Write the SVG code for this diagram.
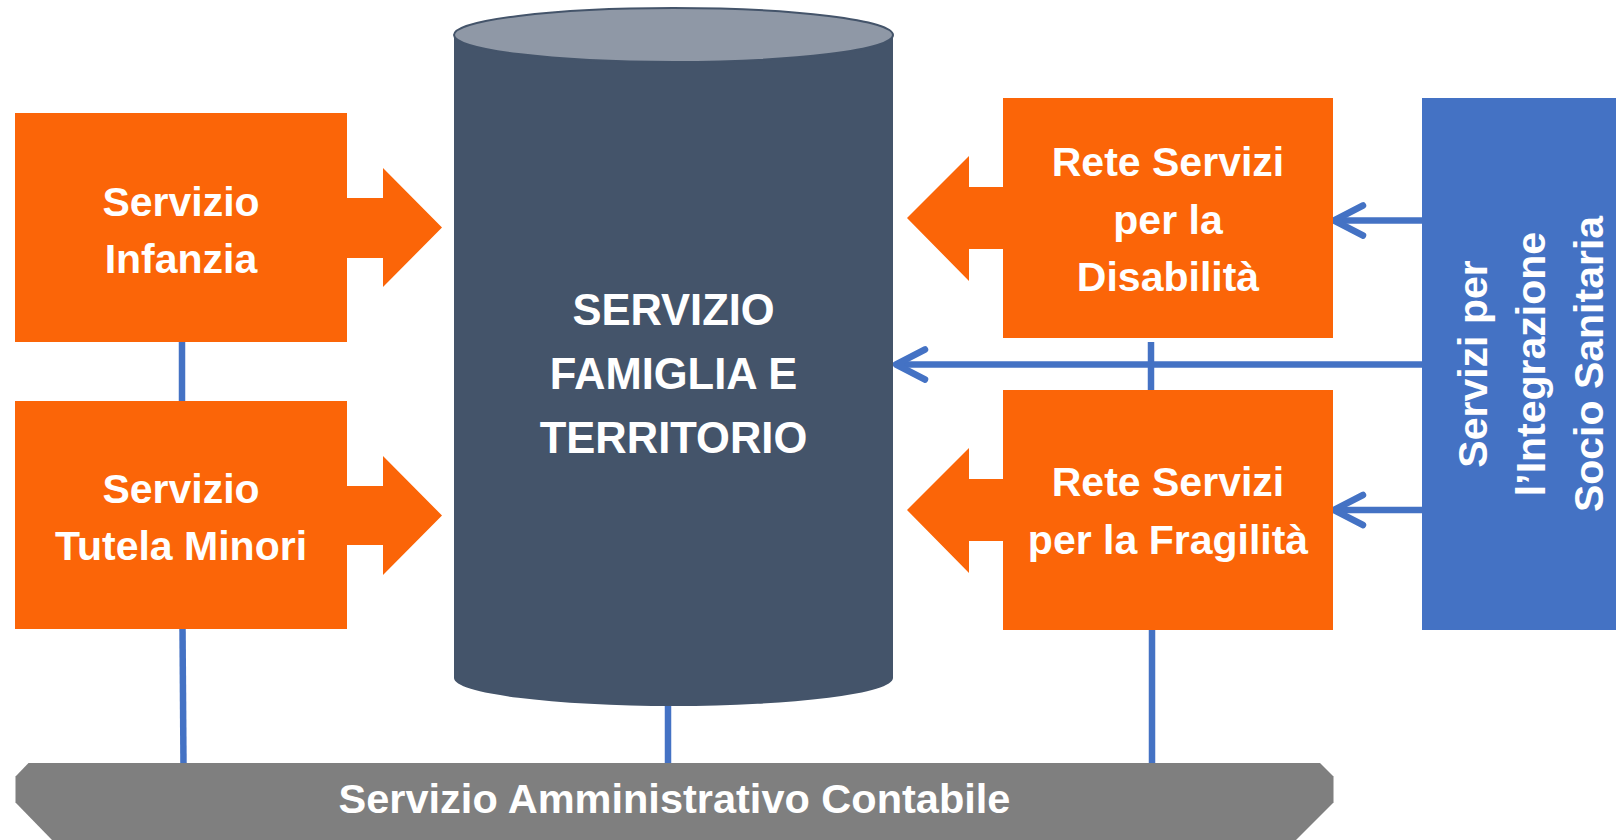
<svg xmlns="http://www.w3.org/2000/svg" width="1616" height="840" viewBox="0 0 1616 840">
  <style>
    .orange { fill: #FB6508; }
    .lbl { font-family: "Liberation Sans", Arial, sans-serif; font-weight: bold; fill: #FFFFFF; text-anchor: middle; }
    .conn { stroke: #4472C4; stroke-width: 6.5; fill: none; }
    .arr { stroke: #4472C4; stroke-width: 6.5; fill: none; stroke-linecap: round; stroke-linejoin: round; }
  </style>
  <rect x="0" y="0" width="1616" height="840" fill="#FFFFFF"/>

  <g id="connectors">
    <line class="conn" x1="182" y1="340" x2="182" y2="403"/>
    <line class="conn" x1="182.5" y1="627" x2="183.5" y2="765"/>
    <line class="conn" x1="668" y1="700" x2="668" y2="765"/>
    <line class="conn" x1="1151" y1="342" x2="1151" y2="392"/>
    <line class="conn" x1="1152" y1="628" x2="1152" y2="765"/>
    <line class="conn" x1="1422" y1="220.5" x2="1336" y2="220.5"/>
    <path class="arr" d="M1363,205.5 L1334,220.5 L1363,235.5"/>
    <line class="conn" x1="1422" y1="364.5" x2="898" y2="364.5"/>
    <path class="arr" d="M925,349.5 L896,364.5 L925,379.5"/>
    <line class="conn" x1="1422" y1="510" x2="1336" y2="510"/>
    <path class="arr" d="M1363,495 L1334,510 L1363,525"/>
  </g>

  <g id="bar-amministrativo">
    <polygon points="28.5,763 1320,763 1333.5,776.5 1333.5,802.5 1296,840 52,840 15.5,802.5 15.5,776.5" fill="#7F7F7F"/>
    <text class="lbl" x="674.5" y="813" font-size="41.5">Servizio Amministrativo Contabile</text>
  </g>

  <g id="cylinder-famiglia">
    <path d="M454,35 L454,678 A219.5,28 0 0 0 893,678 L893,35 Z" fill="#44546A"/>
    <ellipse cx="673.5" cy="35" rx="219.5" ry="27" fill="#8F98A6" stroke="#44546A" stroke-width="2"/>
    <text class="lbl" font-size="43.5" x="673.5" y="325">SERVIZIO</text>
    <text class="lbl" font-size="43.5" x="673.5" y="389">FAMIGLIA E</text>
    <text class="lbl" font-size="43.5" x="673.5" y="453">TERRITORIO</text>
  </g>

  <g id="node-infanzia">
    <path class="orange" d="M15,113 H347 V198 H383 V168 L442,227.5 L383,287 V258 H347 V342 H15 Z"/>
    <text class="lbl" font-size="41" x="181" y="216">Servizio</text>
    <text class="lbl" font-size="41" x="181" y="273">Infanzia</text>
  </g>

  <g id="node-tutela">
    <path class="orange" d="M15,401 H347 V486 H383 V456 L442,515.5 L383,575 V545 H347 V629 H15 Z"/>
    <text class="lbl" font-size="41" x="181" y="503">Servizio</text>
    <text class="lbl" font-size="41" x="181" y="560">Tutela Minori</text>
  </g>

  <g id="node-disabilita">
    <path class="orange" d="M1333,98 H1003 V187 H969 V156 L907,218 L969,281 V249 H1003 V338 H1333 Z"/>
    <text class="lbl" font-size="41" x="1168" y="176">Rete Servizi</text>
    <text class="lbl" font-size="41" x="1168" y="233.5">per la</text>
    <text class="lbl" font-size="41" x="1168" y="291">Disabilità</text>
  </g>

  <g id="node-fragilita">
    <path class="orange" d="M1333,390 H1003 V479 H969 V448 L907,510 L969,573 V541 H1003 V630 H1333 Z"/>
    <text class="lbl" font-size="41" x="1168" y="496">Rete Servizi</text>
    <text class="lbl" font-size="41" x="1168" y="554">per la Fragilità</text>
  </g>

  <g id="node-integrazione">
    <rect x="1422" y="98" width="194" height="532" fill="#4472C4"/>
    <g transform="translate(1487,364) rotate(-90)">
      <text class="lbl" font-size="41" x="0" y="0">Servizi per</text>
      <text class="lbl" font-size="41" x="0" y="58">l’Integrazione</text>
      <text class="lbl" font-size="41" x="0" y="116">Socio Sanitaria</text>
    </g>
  </g>
</svg>
